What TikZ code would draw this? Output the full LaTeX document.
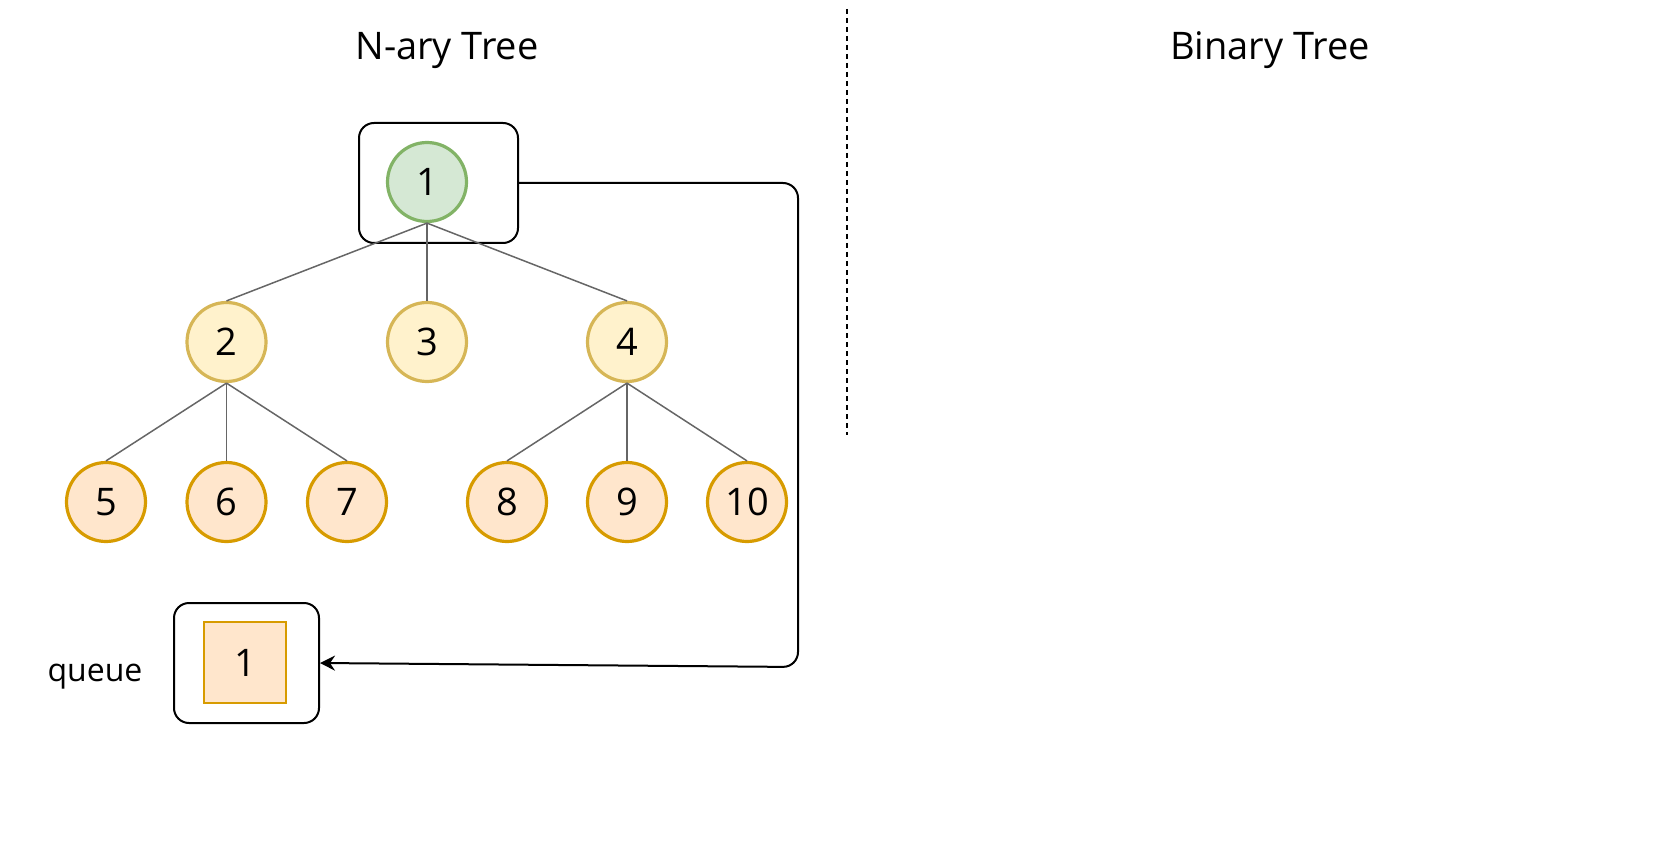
\documentclass[tikz,border=0pt]{standalone}
\usepackage{fontspec}
\setmainfont{Open Sans}
\usetikzlibrary{positioning,arrows.meta}
\definecolor{rootfill}{HTML}{D5E8D4}
\definecolor{rootline}{HTML}{82B366}
\definecolor{midfill}{HTML}{FFF2CC}
\definecolor{midline}{HTML}{D6B656}
\definecolor{leaffill}{HTML}{FFE6CC}
\definecolor{leafline}{HTML}{D79B00}
\definecolor{edgegray}{HTML}{666666}
\tikzset{
  treenode/.style={circle, minimum size=79pt, inner sep=0pt, line width=3.2pt,
    font=\fontsize{38}{44}\selectfont},
  rootnode/.style={treenode, draw=rootline, fill=rootfill},
  midnode/.style={treenode, draw=midline, fill=midfill},
  leafnode/.style={treenode, draw=leafline, fill=leaffill},
  treeedge/.style={draw=edgegray, line width=1.5pt},
  holder/.style={draw, line width=2pt, rounded corners=15pt, inner sep=0pt},
  qcell/.style={draw=leafline, fill=leaffill, line width=2pt, minimum width=82pt,
    minimum height=81pt, inner sep=0pt, font=\fontsize{38}{44}\selectfont},
  caption/.style={anchor=base, inner sep=0pt, font=\fontsize{38}{44}\selectfont},
  divider/.style={line width=1.5pt, dash pattern=on 5pt off 4pt},
  feed/.style={line width=2pt, rounded corners=15pt,
    -{Stealth[length=15pt,width=15pt,inset=5pt]}},
}
\begin{document}
\begin{tikzpicture}[x=1pt, y=-1pt]
  \useasboundingbox (0,0) rectangle (1680,842);

  % Titles and the divider
  \node [caption] (narytitle) at (447,60) {N-ary Tree};
  \node [caption] (bintitle) at (1270,60) {Binary Tree};
  \draw [divider] (847,9) -- (847,435);

  % Box round the root
  \node [holder, minimum width=159pt, minimum height=120pt] (rootbox) at (438.5,183) {};

  % Marking the tree nodes
  \node [rootnode] (n1) at (427,182) {1};
  \node [midnode] (n2) at (226.5,342) {2};
  \node [midnode] (n3) at (427,342) {3};
  \node [midnode] (n4) at (627,342) {4};
  \node [leafnode] (n5) at (106,502) {5};
  \node [leafnode] (n6) at (226.5,502) {6};
  \node [leafnode] (n7) at (347,502) {7};
  \node [leafnode] (n8) at (507,502) {8};
  \node [leafnode] (n9) at (627,502) {9};
  \node [leafnode] (n10) at (747,502) {10};

  % Drawing the tree edges
  \foreach \p/\c in {n1/n2, n1/n3, n1/n4, n2/n5, n2/n6, n2/n7, n4/n8, n4/n9, n4/n10}
    \draw [treeedge] (\p.south) -- (\c.north);

  % Queue
  \node [font=\fontsize{32}{38}\selectfont, anchor=base] (qlabel) at (95,681) {queue};
  \node [holder, minimum width=145pt, minimum height=120pt] (qbox) at (246.5,663) {};
  \node [qcell] (qone) at (245,662.5) {1};

  % Drawing the arrow from the root box to the queue
  \coordinate (turn) at (798,667);
  \draw [feed] (rootbox.east) -| (turn) -- (qbox.east);
\end{tikzpicture}
\end{document}
